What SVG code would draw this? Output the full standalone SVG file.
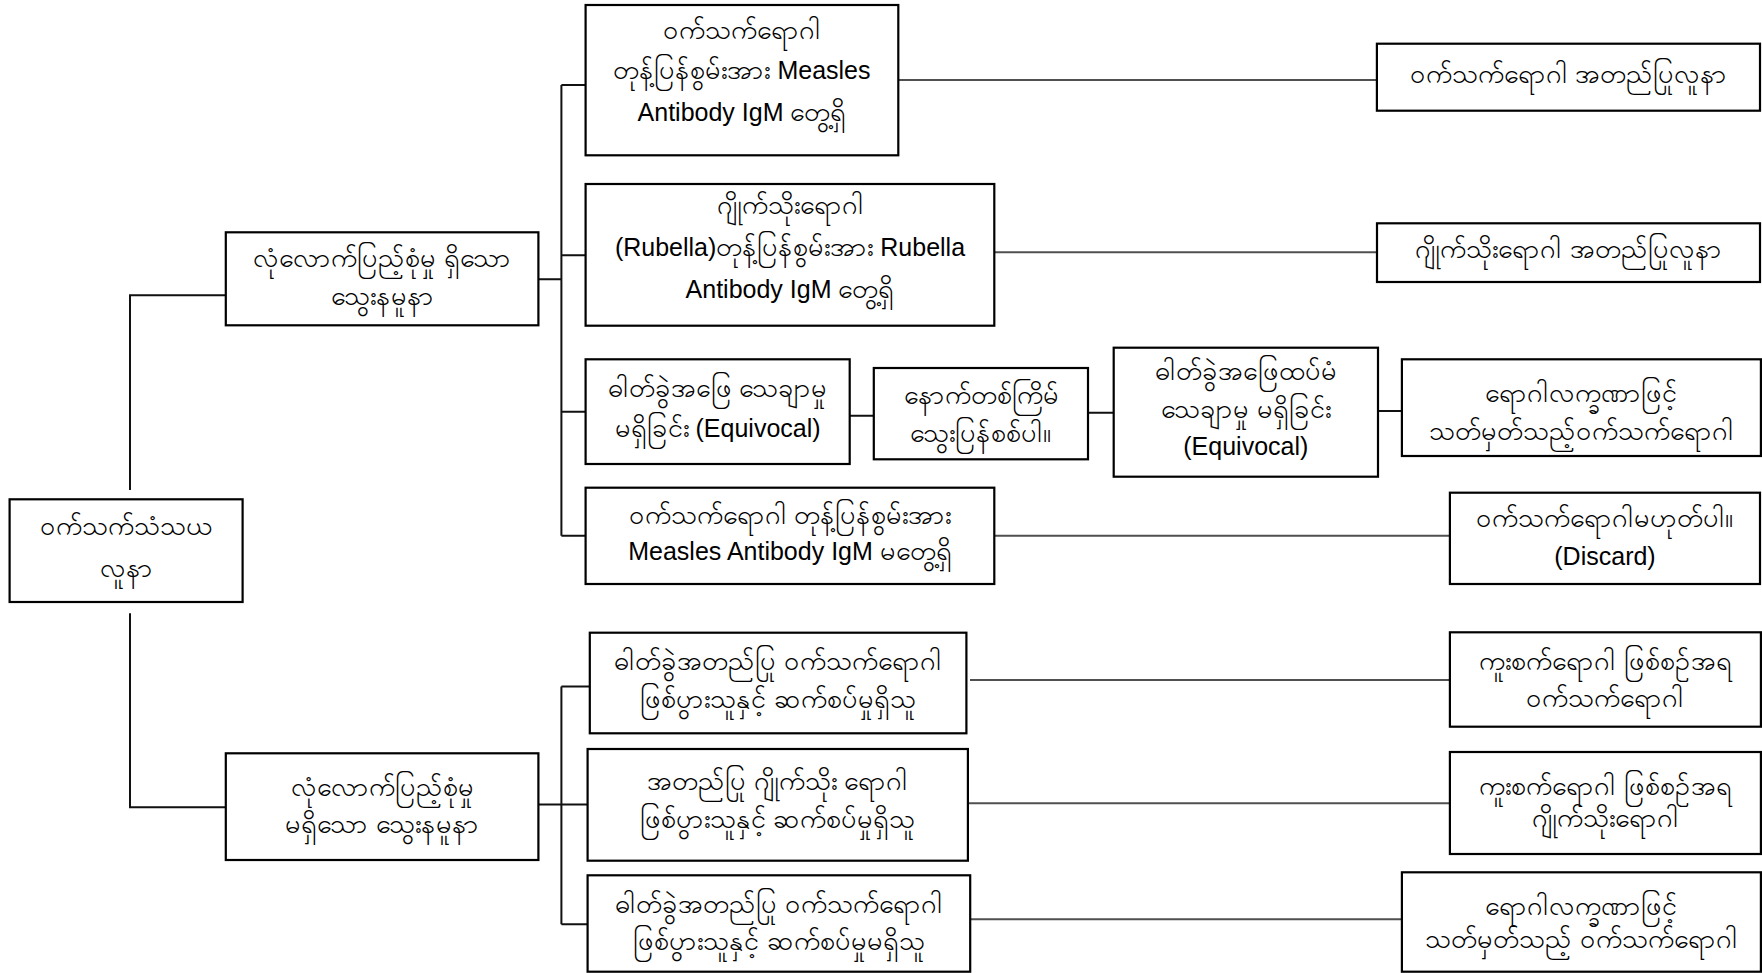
<svg xmlns="http://www.w3.org/2000/svg" width="1762" height="973" viewBox="0 0 1762 973">
<style>
.box{fill:#fff;stroke:#000;stroke-width:2.2}
.t{font-family:"Liberation Sans","Noto Sans",sans-serif;font-size:27px;fill:#000;text-anchor:middle}
.l{font-family:"Liberation Sans",sans-serif;font-size:25px}
.br{fill:none;stroke:#111;stroke-width:2}
.ln{fill:none;stroke:#505050;stroke-width:2}
</style>
<rect width="1762" height="973" fill="#fff"/>
<g id="connectors">
<path class="br" d="M130 490V295.3H225.8"/>
<path class="br" d="M130 613.3V807.3H225.8"/>
<path class="br" d="M538.4 279.3H561.4M561.4 85V535.7M561.4 85H585.6M561.4 255.3H585.6M561.4 411.7H585.6M561.4 535.7H585.6"/>
<path class="br" d="M538.4 804.5H587.6M561.4 686.5V924.3M561.4 686.5H589.8M561.4 924.3H587.6"/>
<path class="br" d="M849.7 415.7H873.8M1088 412.7H1113.7M1378 411H1401.9"/>
<path class="ln" d="M898.3 80H1376.9M994.3 252.3H1377M994.3 535.7H1449.9M970 680H1449.9M967.9 803.3H1449.9M970.2 919.3H1401.9"/>
</g>
<g id="root"><rect class="box" x="9.6" y="499.3" width="233" height="102.7"/><text class="t" x="126" y="535">ဝက်သက်သံသယ</text><text class="t" x="126" y="577">လူနာ</text></g>
<g id="adequate"><rect class="box" x="225.8" y="232.3" width="312.6" height="93"/><text class="t" x="382" y="267">လုံလောက်ပြည့်စုံမှု ရှိသော</text><text class="t" x="382" y="305">သွေးနမူနာ</text></g>
<g id="inadequate"><rect class="box" x="225.8" y="753.3" width="312.6" height="106.7"/><text class="t" x="382" y="796">လုံလောက်ပြည့်စုံမှု</text><text class="t" x="382" y="833">မရှိသော သွေးနမူနာ</text></g>
<g id="measlesIgM"><rect class="box" x="585.6" y="5" width="312.7" height="150.3"/><text class="t" x="742" y="38.5">ဝက်သက်ရောဂါ</text><text class="t" x="742" y="79">တုန့်ပြန်စွမ်းအား<tspan class="l"> Measles</tspan></text><text class="t" x="742" y="120.5"><tspan class="l">Antibody IgM </tspan>တွေ့ရှိ</text></g>
<g id="rubellaIgM"><rect class="box" x="585.6" y="184" width="408.7" height="141.7"/><text class="t" x="790" y="214">ဂျိုက်သိုးရောဂါ</text><text class="t" x="790" y="256"><tspan class="l">(Rubella)</tspan>တုန့်ပြန်စွမ်းအား<tspan class="l"> Rubella</tspan></text><text class="t" x="790" y="298"><tspan class="l">Antibody IgM </tspan>တွေ့ရှိ</text></g>
<g id="equivocal1"><rect class="box" x="585.6" y="359.3" width="264.1" height="104.7"/><text class="t" x="717.6" y="397">ဓါတ်ခွဲအဖြေ သေချာမှု</text><text class="t" x="717.6" y="437">မရှိခြင်း<tspan class="l"> (Equivocal)</tspan></text></g>
<g id="retest"><rect class="box" x="873.8" y="368" width="214.2" height="91.3"/><text class="t" x="981" y="404">နောက်တစ်ကြိမ်</text><text class="t" x="981" y="442">သွေးပြန်စစ်ပါ။</text></g>
<g id="equivocal2"><rect class="box" x="1113.7" y="347.7" width="264.3" height="129"/><text class="t" x="1245.8" y="380">ဓါတ်ခွဲအဖြေထပ်မံ</text><text class="t" x="1245.8" y="418">သေချာမှု မရှိခြင်း</text><text class="t" x="1245.8" y="455"><tspan class="l">(Equivocal)</tspan></text></g>
<g id="clinical1"><rect class="box" x="1401.9" y="359.3" width="359" height="96.7"/><text class="t" x="1581.4" y="402">ရောဂါလက္ခဏာဖြင့်</text><text class="t" x="1581.4" y="440">သတ်မှတ်သည့်ဝက်သက်ရောဂါ</text></g>
<g id="measlesNeg"><rect class="box" x="585.6" y="487.7" width="408.7" height="96.3"/><text class="t" x="790" y="524">ဝက်သက်ရောဂါ တုန့်ပြန်စွမ်းအား</text><text class="t" x="790" y="560"><tspan class="l">Measles Antibody IgM </tspan>မတွေ့ရှိ</text></g>
<g id="discard"><rect class="box" x="1449.9" y="492.7" width="310.1" height="91.3"/><text class="t" x="1605" y="527">ဝက်သက်ရောဂါမဟုတ်ပါ။</text><text class="t" x="1605" y="565"><tspan class="l">(Discard)</tspan></text></g>
<g id="measlesConfirmed"><rect class="box" x="1376.9" y="43.7" width="383.1" height="67"/><text class="t" x="1568.5" y="83">ဝက်သက်ရောဂါ အတည်ပြုလူနာ</text></g>
<g id="rubellaConfirmed"><rect class="box" x="1377" y="223.3" width="383" height="58.7"/><text class="t" x="1568.5" y="258">ဂျိုက်သိုးရောဂါ အတည်ပြုလူနာ</text></g>
<g id="linkMeasles"><rect class="box" x="589.8" y="632.7" width="376.6" height="100.6"/><text class="t" x="778" y="670">ဓါတ်ခွဲအတည်ပြု ဝက်သက်ရောဂါ</text><text class="t" x="778" y="708">ဖြစ်ပွားသူနှင့် ဆက်စပ်မှုရှိသူ</text></g>
<g id="linkRubella"><rect class="box" x="587.6" y="749" width="380.3" height="111.7"/><text class="t" x="777.7" y="790">အတည်ပြု ဂျိုက်သိုး ရောဂါ</text><text class="t" x="777.7" y="828">ဖြစ်ပွားသူနှင့် ဆက်စပ်မှုရှိသူ</text></g>
<g id="noLink"><rect class="box" x="587.6" y="875.3" width="382.6" height="96.4"/><text class="t" x="779" y="913">ဓါတ်ခွဲအတည်ပြု ဝက်သက်ရောဂါ</text><text class="t" x="779" y="950">ဖြစ်ပွားသူနှင့် ဆက်စပ်မှုမရှိသူ</text></g>
<g id="epiMeasles"><rect class="box" x="1449.9" y="632.3" width="311" height="94.4"/><text class="t" x="1605.4" y="670">ကူးစက်ရောဂါ ဖြစ်စဉ်အရ</text><text class="t" x="1605.4" y="707">ဝက်သက်ရောဂါ</text></g>
<g id="epiRubella"><rect class="box" x="1449.9" y="752" width="311" height="102"/><text class="t" x="1605.4" y="795">ကူးစက်ရောဂါ ဖြစ်စဉ်အရ</text><text class="t" x="1605.4" y="827">ဂျိုက်သိုးရောဂါ</text></g>
<g id="clinical2"><rect class="box" x="1401.9" y="872.3" width="359" height="99.4"/><text class="t" x="1581.4" y="915">ရောဂါလက္ခဏာဖြင့်</text><text class="t" x="1581.4" y="948">သတ်မှတ်သည့် ဝက်သက်ရောဂါ</text></g>
</svg>
